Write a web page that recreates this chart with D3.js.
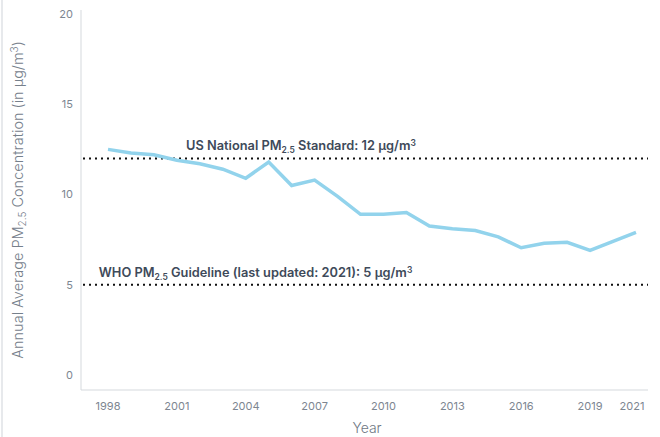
<!DOCTYPE html>
<html>
<head>
<meta charset="utf-8">
<script src="https://cdn.jsdelivr.net/npm/d3@7"></script>
<style>
  body { margin: 0; background: #fff; }
  svg { font-family: Inter, "Liberation Sans", sans-serif; }
</style>
</head>
<body>
<svg id="chart" width="660" height="437"></svg>
<script>
// annual average PM2.5
var years = [1998, 1999, 2000, 2001, 2002, 2003, 2004, 2005, 2006, 2007, 2008, 2009,
             2010, 2011, 2012, 2013, 2014, 2015, 2016, 2017, 2018, 2019, 2020, 2021];
var pm25 = [12.5, 12.3, 12.2, 11.9, 11.7, 11.4, 10.9, 11.8, 10.5, 10.8, 9.9, 8.9,
            8.9, 9.0, 8.25, 8.1, 8.0, 7.65, 7.05, 7.3, 7.35, 6.9, 7.4, 7.9];
var xTicks = [1998, 2001, 2004, 2007, 2010, 2013, 2016, 2019, 2021];
var yTicks = [0, 5, 10, 15, 20];
var refLines = [
    {value: 12, pre: "US National PM", post: " Standard: 12 µg/m", x: 2001.4},
    {value: 5, pre: "WHO PM", post: " Guideline (last updated: 2021): 5 µg/m", x: 1997.6}
];

var svg = d3.select("#chart");

var x = d3.scaleLinear().domain([1998, 2021]).range([108, 636]);
var y = d3.scaleLinear().domain([0, 20]).range([375, 14]);

// thin border on the far left
svg.append("line")
    .attr("x1", 2).attr("x2", 2).attr("y1", 0).attr("y2", 437)
    .attr("stroke", "#dfe2e6").attr("stroke-width", 1.5);

// axis frame
svg.append("line")
    .attr("x1", 81).attr("x2", 81).attr("y1", 10).attr("y2", 390)
    .attr("stroke", "#d5d9dd");
svg.append("line")
    .attr("x1", 81).attr("x2", 648).attr("y1", 390).attr("y2", 390)
    .attr("stroke", "#d5d9dd");

// y tick labels
svg.selectAll("text.ytick")
    .data(yTicks)
    .enter().append("text")
    .attr("class", "ytick")
    .attr("x", 73)
    .attr("y", function(d) { return y(d); })
    .attr("dy", "0.35em")
    .attr("text-anchor", "end")
    .attr("font-size", 11)
    .attr("fill", "#7d8691")
    .text(function(d) { return d; });

// x tick labels
svg.selectAll("text.xtick")
    .data(xTicks)
    .enter().append("text")
    .attr("class", "xtick")
    .attr("x", function(d) { return d === 2021 ? x(d) - 4 : x(d); })
    .attr("y", 410)
    .attr("text-anchor", "middle")
    .attr("font-size", 11)
    .attr("fill", "#7d8691")
    .text(function(d) { return d; });

// reference lines
svg.selectAll("line.ref")
    .data(refLines)
    .enter().append("line")
    .attr("class", "ref")
    .attr("x1", 83).attr("x2", 648)
    .attr("y1", function(d) { return y(d.value); })
    .attr("y2", function(d) { return y(d.value); })
    .attr("stroke", "#111")
    .attr("stroke-width", 2)
    .attr("stroke-dasharray", "2,4");

var refText = svg.selectAll("text.reflabel")
    .data(refLines)
    .enter().append("text")
    .attr("class", "reflabel")
    .attr("x", function(d) { return x(d.x); })
    .attr("y", function(d) { return y(d.value) - 8; })
    .attr("font-size", 12.8)
    .attr("font-weight", 600)
    .attr("fill", "#3e4a5a");
refText.append("tspan").text(function(d) { return d.pre; });
refText.append("tspan").attr("font-size", 8.5).attr("dy", 3).text("2.5");
refText.append("tspan").attr("dy", -3).text(function(d) { return d.post; });
refText.append("tspan").attr("font-size", 8.5).attr("dy", -4).text("3");

// data line
var line = d3.line()
    .x(function(d, i) { return x(years[i]); })
    .y(function(d) { return y(d); });

svg.append("path")
    .datum(pm25)
    .attr("d", line)
    .attr("fill", "none")
    .attr("stroke", "#92d3ec")
    .attr("stroke-width", 3.5)
    .attr("stroke-linejoin", "miter");

// axis titles
svg.append("text")
    .attr("x", 367).attr("y", 433)
    .attr("text-anchor", "middle")
    .attr("font-size", 14)
    .attr("font-weight", 300)
    .attr("fill", "#6f7883")
    .text("Year");

var yTitle = svg.append("text")
    .attr("transform", "translate(23,200) rotate(-90)")
    .attr("text-anchor", "middle")
    .attr("font-size", 14.5)
    .attr("font-weight", 300)
    .attr("fill", "#76808b");
yTitle.append("tspan").text("Annual Average PM");
yTitle.append("tspan").attr("font-size", 10).attr("dy", 3).text("2.5");
yTitle.append("tspan").attr("dy", -3).text(" Concentration (in µg/m");
yTitle.append("tspan").attr("font-size", 10).attr("dy", -5).text("3");
yTitle.append("tspan").attr("dy", 5).text(")");
</script>
</body>
</html>
